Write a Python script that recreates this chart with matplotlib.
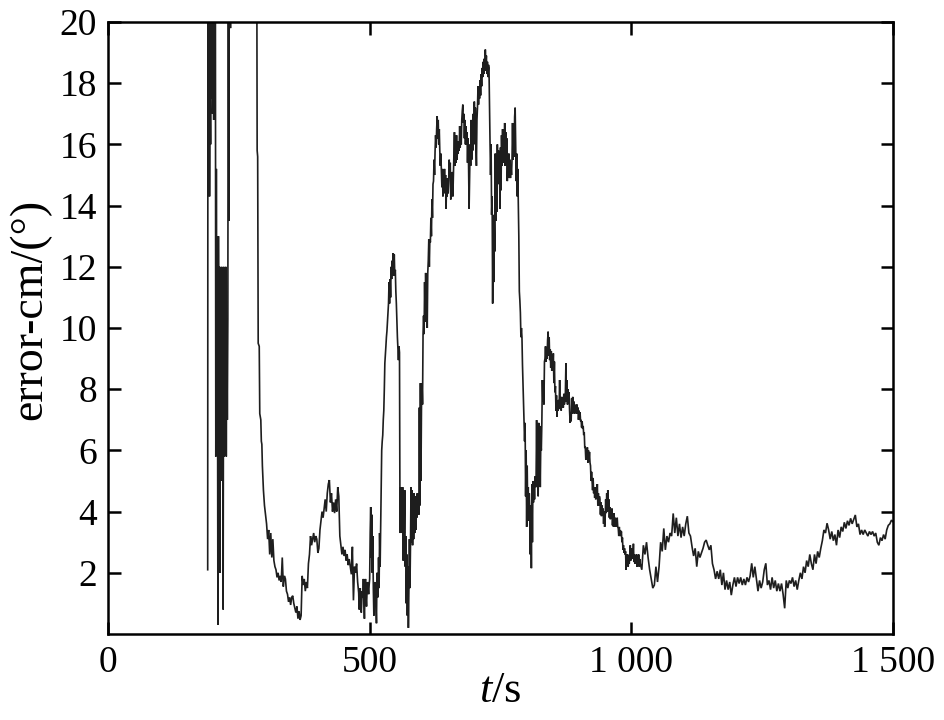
import numpy as np
import matplotlib
matplotlib.use("Agg")
import matplotlib.pyplot as plt

# ---------------- data ----------------
# early spiky part (irregular sampling), values > 20 are off the chart
t_early = [190.5, 191, 192, 193, 194, 195, 196, 197, 198, 199, 200, 201, 202, 203, 204, 205,
           206, 207, 208, 209, 210, 211, 212, 213, 214, 215, 216, 217, 218, 219, 220, 221,
           222, 223, 224, 225, 226, 227, 228, 229, 230, 231, 232, 234, 235, 284, 285, 286,
           287, 289, 290, 292, 293, 294, 295]
v_early = [2.1, 25, 15, 22, 14.3, 19, 16, 25, 17.5, 22, 17, 19, 16.8, 24, 17.2, 25,
           5.8, 15.2, 8, 12, 0.3, 13, 8, 12, 2, 11, 7.9, 12, 5, 11.5, 0.8, 12,
           5.8, 11, 8, 12, 5.8, 10.3, 7, 10.3, 25, 13.5, 25, 19.8, 25, 25, 15.8, 15.6,
           9.5, 9.4, 7.2, 7.0, 6.3, 6.2, 5.5]

# 297 s .. 479 s, every 2 s
t_b_start, t_b_step = 297, 2
v_b = [4.7, 4.2, 3.9, 3.6, 3.1, 3.4, 2.6, 3.3, 2.5, 3.1, 2.4, 2.2, 2.1, 1.85, 2.0, 1.75,
       1.9, 1.7, 2.5, 1.55, 1.9, 1.8, 1.4, 1.3, 1.05, 1.2, 0.95, 1.2, 1.25, 1.0, 0.85, 0.7,
       0.9, 0.5, 0.75, 0.46, 0.6, 1.9, 1.6, 1.8, 1.4, 1.7, 1.5, 2.3, 2.6, 3.2, 2.9, 3.1,
       3.3, 3.0, 3.2, 3.1, 2.65, 2.8, 3.4, 3.7, 4.0, 3.8, 4.1, 4.4, 4.0, 4.6, 4.9, 5.03,
       4.3, 4.6, 4.0, 4.3, 3.95, 4.4, 4.0, 4.8, 4.5, 3.2, 2.9, 2.6, 2.85, 2.55, 2.75, 2.4,
       2.6, 2.25, 2.45, 2.2, 1.95, 2.85, 1.1, 2.2, 2.0, 2.3, 1.7, 1.35]

# 480 s .. 1016 s, every 1 s
t_c_start, t_c_step = 480, 1
v_c = [0.8, 1.2, 1.5, 1.0, 0.7, 1.1, 1.4, 1.2, 1.8, 1.0,      # 480
       0.5, 1.3, 1.8, 1.2, 0.9, 1.4, 1.7, 1.5, 1.3, 1.6,      # 490
       1.8, 3.3, 4.15, 2.5, 3.9, 2.0, 3.2, 1.5, 0.6, 1.2,     # 500
       1.7, 1.3, 1.0, 0.35, 2.0, 1.5, 1.2, 2.5, 1.5, 3.3,     # 510
       2.2, 3.5, 4.6, 6.0, 6.3, 6.5, 7.0, 7.3, 8.0, 8.85,     # 520
       9.1, 9.4, 9.7, 9.9, 10.2, 10.5, 10.8, 11.5, 10.8, 11.6,  # 530
       11.0, 12.0, 11.6, 12.2, 11.7, 12.45, 11.8, 12.4, 11.7, 11.9,  # 540
       11.2, 10.8, 10.2, 9.7, 9.3, 8.95, 9.4, 9.2, 3.3, 4.8,  # 550
       3.5, 4.6, 3.3, 4.8, 2.4, 4.2, 3.3, 4.7, 2.2, 3.2,      # 560
       1.0, 2.6, 0.6, 2.2, 0.2, 1.5, 3.1, 1.5, 2.9, 4.8,      # 570
       3.0, 4.7, 2.9, 4.5, 3.1, 4.6, 3.3, 4.5, 3.4, 4.4,      # 580
       3.8, 4.6, 3.9, 4.6, 3.9, 7.4, 4.2, 8.2, 5.0, 7.4,      # 590
       8.2, 7.5, 9.8, 10.4, 9.8, 11.5, 10.2, 11.8, 10.7, 11.6,  # 600
       10.0, 11.8, 12.2, 12.9, 12.0, 12.9, 12.8, 13.6, 13.0, 14.2,  # 610
       13.6, 14.7, 14.8, 15.5, 15.0, 15.8, 16.3, 15.9, 16.5, 16.92,  # 620
       16.2, 16.8, 16.0, 16.5, 15.8, 15.3, 15.7, 15.2, 14.6, 15.2,  # 630
       14.3, 14.9, 14.4, 15.2, 14.5, 15.0, 13.9, 14.8, 14.3, 14.9,  # 640
       14.4, 14.8, 15.5, 15.0, 15.4, 14.2, 15.0, 14.4, 15.1, 14.3,  # 650
       15.0, 15.7, 16.4, 15.3, 16.2, 15.4, 16.3, 15.5, 16.0, 15.7,  # 660
       16.1, 15.8, 16.6, 15.9, 16.5, 16.0, 16.8, 17.1, 17.3, 16.7,  # 670
       17.0, 16.2, 16.8, 16.0, 16.6, 16.0, 16.4, 15.4, 16.2, 15.3,  # 680
       13.9, 15.0, 16.0, 15.3, 16.8, 15.5, 16.5, 15.8, 17.0, 16.0,  # 690
       17.4, 16.3, 17.2, 16.0, 15.3, 16.8, 17.2, 17.9, 17.3, 17.8,  # 700
       17.5, 18.1, 17.6, 18.3, 17.9, 18.5, 18.2, 18.7, 18.3, 18.8,  # 710
       18.4, 19.1, 18.6, 18.9, 18.3, 18.7, 18.2, 18.6, 18.5, 17.2,  # 720
       16.05, 15.0, 16.0, 13.7, 14.3, 10.8, 13.6, 11.5, 13.7, 12.5,  # 730
       15.7, 13.5, 15.0, 13.8, 16.0, 14.8, 15.8, 14.7, 15.6, 13.9,  # 740
       15.9, 14.5, 16.3, 15.3, 16.5, 15.4, 16.2, 15.5, 16.7, 15.3,  # 750
       16.4, 15.6, 16.2, 14.8, 15.6, 15.0, 15.7, 14.9, 15.5, 14.9,  # 760
       15.3, 15.0, 15.5, 16.7, 15.5, 16.3, 15.6, 16.9, 17.2, 15.9,  # 770
       14.8, 15.7, 14.3, 15.2, 14.2, 13.0, 11.2, 10.9, 10.5, 9.7,  # 780
       10.0, 9.7, 8.8, 8.2, 7.7, 7.0, 6.3, 6.9, 4.5, 6.0,     # 790
       3.5, 5.5, 4.0, 4.8, 3.7, 4.6, 3.8, 2.6, 4.2, 2.15,     # 800
       4.9, 3.0, 5.0, 4.3, 5.0, 4.4, 5.15, 4.8, 5.1, 6.99,    # 810
       4.8, 6.5, 4.5, 6.9, 5.2, 6.8, 4.8, 6.3, 6.0, 6.9,      # 820
       8.3, 7.6, 8.3, 7.5, 8.9, 9.0, 9.4, 8.9, 9.35, 9.0,     # 830
       9.6, 9.88, 9.1, 9.7, 8.95, 9.3, 8.7, 9.25, 8.6, 9.1,   # 840
       8.7, 9.17, 8.2, 8.9, 7.9, 8.1, 7.3, 7.8, 7.1, 7.6,     # 850
       7.3, 7.65, 7.35, 8.3, 7.4, 7.7, 7.3, 7.75, 7.4, 7.7,   # 860
       7.4, 7.85, 7.5, 7.6, 7.9, 8.85, 7.6, 8.3, 7.5, 8.0,    # 870
       7.6, 7.9, 7.3, 6.9, 7.25, 6.95, 7.7, 7.2, 7.75, 7.3,   # 880
       7.6, 7.2, 7.5, 7.25, 7.45, 7.2, 7.5, 7.2, 7.4, 7.0,    # 890
       7.3, 7.0, 7.25, 6.95, 7.0, 6.75, 6.95, 6.7, 6.8, 6.5,  # 900
       6.6, 6.1, 6.1, 5.7, 6.0, 5.7, 6.1, 5.6, 6.0, 5.65,     # 910
       5.95, 5.6, 5.5, 5.0, 5.3, 5.0, 4.7, 5.1, 4.6, 4.8,     # 920
       4.45, 4.8, 4.4, 4.7, 4.45, 4.9, 4.2, 4.6, 4.2, 4.5,    # 930
       4.4, 3.9, 4.3, 3.85, 4.2, 3.9, 4.1, 3.6, 4.0, 3.5,     # 940
       3.8, 4.4, 3.95, 4.6, 4.0, 4.7, 4.1, 4.4, 3.8, 4.15,    # 950
       3.75, 4.0, 3.8, 4.1, 3.55, 3.9, 3.5, 3.95, 3.6, 3.8,   # 960
       3.5, 3.75, 3.55, 3.8, 3.5, 3.45, 3.2, 3.5, 3.2, 3.4,   # 970
       3.2, 3.35, 3.0, 3.15, 2.75, 2.9, 2.65, 2.8, 2.6, 2.7,  # 980
       2.1, 2.6, 2.3, 2.6, 2.2, 2.5, 2.3, 2.55, 2.9, 2.4,     # 990
       2.8, 2.45, 2.7, 2.5, 2.95, 2.35, 2.6, 2.3, 2.55, 2.4,  # 1000
       2.6, 2.2, 2.5, 2.25, 2.6, 2.2, 2.45]                   # 1010

# 1017 s .. 1500 s, every 3 s
t_d_start, t_d_step = 1017, 3
v_d = [2.3, 2.1, 2.9, 2.6, 3.0, 2.5, 2.1, 1.8, 1.5, 1.6,
       2.2, 1.7, 2.2, 3.0, 2.7, 3.45, 2.75, 3.2, 3.0, 3.3,
       3.2, 3.94, 3.3, 3.8, 3.2, 3.6, 3.15, 3.5, 3.2, 3.6,
       3.85, 3.3, 3.2, 2.85, 2.55, 2.8, 2.2, 2.7, 2.5, 2.65,
       2.8, 3.0, 3.07, 2.9, 2.75, 2.9, 2.3, 2.1, 1.8, 2.05,
       1.8, 2.1, 1.6, 2.0, 1.45, 1.75, 1.45, 1.7, 1.27, 1.6,
       1.85, 1.55, 1.85, 1.65, 1.85, 1.6, 1.8, 1.6, 1.85, 1.7,
       1.9, 2.31, 1.85, 2.2, 1.8, 1.4, 1.75, 1.5, 1.7, 2.1,
       2.31, 1.6, 1.75, 1.45, 1.85, 1.5, 1.75, 1.4, 1.65, 1.4,
       1.65, 1.3, 0.84, 1.75, 1.5, 1.75, 1.65, 1.85, 1.55, 1.75,
       1.45, 1.75, 2.0, 1.8, 2.2, 2.0, 2.4, 2.2, 2.6, 2.3,
       2.1, 2.6, 2.3, 2.7, 2.5, 2.8, 3.05, 3.4, 3.3, 3.62,
       3.4, 3.1, 3.35, 3.05, 3.25, 2.9, 3.4, 3.15, 3.5, 3.35,
       3.65, 3.45, 3.7, 3.55, 3.78, 3.6, 3.75, 3.89, 3.5, 3.6,
       3.25, 3.4, 3.25, 3.4, 3.3, 3.2, 3.35, 3.25, 3.35, 3.2,
       3.3, 3.0, 2.9, 3.15, 3.05, 3.25, 3.1, 3.4, 3.55, 3.6,
       3.72, 3.67]

x_ticks = [0, 500, 1000, 1500]
x_tick_labels = ["0", "500", "1 000", "1 500"]
y_ticks = [2, 4, 6, 8, 10, 12, 14, 16, 18, 20]
y_tick_labels = ["2", "4", "6", "8", "10", "12", "14", "16", "18", "20"]

# ---------------- assemble series ----------------
t_b = t_b_start + t_b_step * np.arange(len(v_b))
t_c = t_c_start + t_c_step * np.arange(len(v_c))
t_d = t_d_start + t_d_step * np.arange(len(v_d))
t_all = np.concatenate([np.array(t_early, float), t_b, t_c, t_d])
v_all = np.concatenate([np.array(v_early, float), v_b, v_c, v_d])

# ---------------- plot ----------------
plt.rcParams['font.family'] = ['Liberation Serif', 'DejaVu Serif']
plt.rcParams['mathtext.fontset'] = 'custom'
plt.rcParams['mathtext.it'] = 'Liberation Serif:italic'
plt.rcParams['mathtext.rm'] = 'Liberation Serif'

fig = plt.figure(figsize=(9.45, 7.2), dpi=100)
ax = fig.add_axes([108/945, 1 - 634/720, (893-108)/945, (634-22)/720])

ax.plot(t_all, v_all, color='#1e1e1e', linewidth=1.2, solid_joinstyle='miter')

ax.set_xlim(0, 1500)
ax.set_ylim(0, 20)
ax.set_xticks(x_ticks)
ax.set_xticklabels(x_tick_labels)
ax.set_yticks(y_ticks)
ax.set_yticklabels(y_tick_labels)

ax.tick_params(direction='in', length=9, width=1.8, labelsize=27,
               top=True, right=True, pad=8)
for s in ax.spines.values():
    s.set_linewidth(1.8)

ax.set_xlabel('$t$/s', fontsize=32, labelpad=-6)
ax.set_ylabel('error-cm/(°)', fontsize=33)
ax.yaxis.set_label_coords(-0.072, 0.53)

fig.savefig('out.png', dpi=100)
